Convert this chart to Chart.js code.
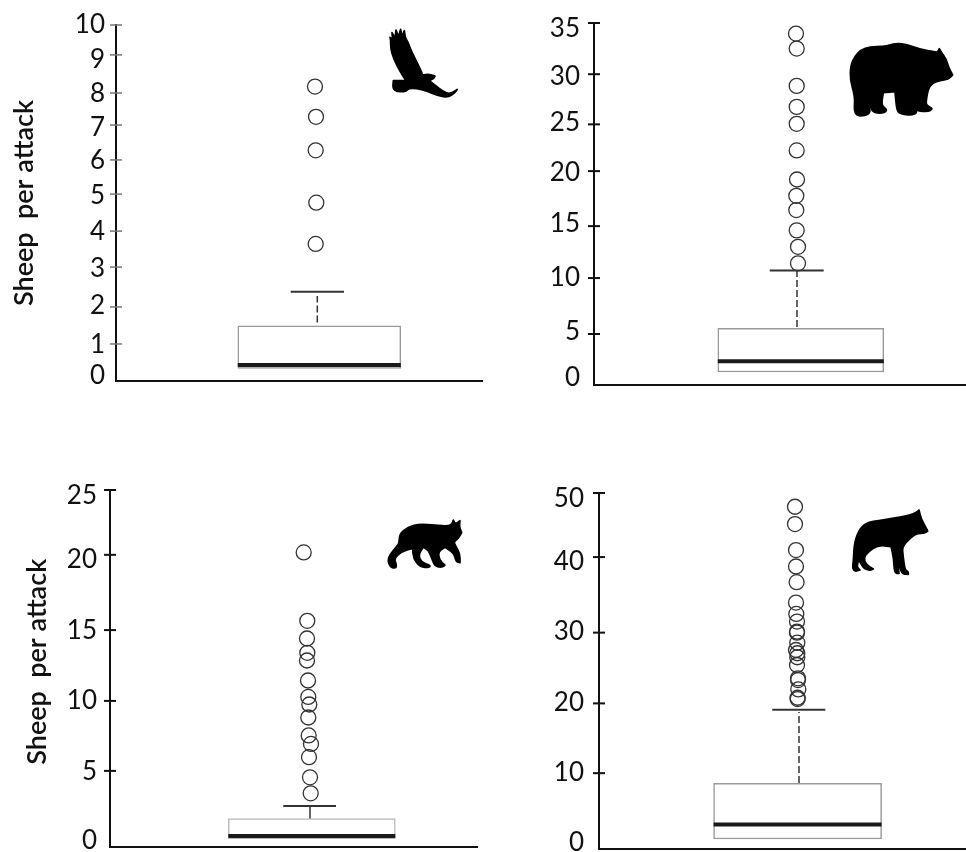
<!DOCTYPE html>
<html>
<head>
<meta charset="utf-8">
<script src="https://cdn.jsdelivr.net/npm/chart.js@4/dist/chart.umd.min.js"></script>
<style>
  body { margin: 0; background: #fff; }
  #wrap { position: relative; width: 966px; height: 852px; overflow: hidden; }
  canvas { position: absolute; filter: blur(0.3px); }
</style>
</head>
<body>
<div id="wrap">
  <canvas id="eagle" width="483" height="400" style="left:0;top:0"></canvas>
  <canvas id="bear" width="483" height="400" style="left:483px;top:0"></canvas>
  <canvas id="lynx" width="483" height="392" style="left:0;top:460px"></canvas>
  <canvas id="wolf" width="483" height="392" style="left:483px;top:460px"></canvas>
</div>
<script>
// the source axes are hand drawn: labels and tick marks are not evenly spaced,
// so each panel keeps where its labels and marks fall on a plain linear scale
const eagleLabels = ['0', '1', '2', '3', '4', '5', '6', '7', '8', '9', '10'];
const eagleLabelAt = [0.14, 1.01, 2.13, 3.17, 4.19, 5.2, 6.18, 7.13, 8.06, 9.04, 10];
const eagleMarkAt = [1.04, 2.08, 3.2, 4.21, 5.25, 6.21, 7.19, 8.09, 9.16, 10];
const eagleOutliers = [8.27, 7.42, 6.48, 5.01, 3.85];
const eagleOutlierX = [199, 200, 199.7, 200.3, 199.7];
const eagleBox = [0.35, 0.45, 1.55];
const eagleWhisker = [1.64, 2.39, 2.51];

const bearLabels = ['0', '5', '10', '15', '20', '25', '30', '35'];
const bearLabelAt = [0.68, 5.12, 10.43, 15.56, 20.58, 25.4, 29.86, 34.5];
const bearMarkAt = [4.93, 10.34, 15.36, 20.68, 25.2, 30.05, 35];
const bearOutliers = [33.98, 32.53, 28.92, 26.89, 25.25, 22.68, 19.87, 18.29, 16.91, 14.95, 13.36, 11.76];
const bearOutlierX = [202, 202.7, 202.7, 202.7, 202.7, 202.7, 203, 202.3, 202.3, 202.7, 204, 204];
const bearBox = [1.26, 2.29, 5.47];
const bearWhisker = [5.6, 11.08, 11.08];

const lynxLabels = ['0', '5', '10', '15', '20', '25'];
const lynxLabelAt = [0.42, 5.26, 10.23, 15.12, 20.14, 24.58];
const lynxMarkAt = [5.33, 10.23, 15.19, 20.46, 25];
const lynxOutliers = [20.63, 15.84, 14.6, 13.6, 13.06, 11.66, 10.51, 9.98, 9.07, 7.81, 7.22, 6.29, 4.88, 3.76];
const lynxOutlierX = [193.7, 197.3, 197, 197.3, 197, 198, 198.3, 199.3, 198.3, 198.7, 201, 199, 200, 200.7];
const lynxBox = [0.59, 0.77, 1.99];
const lynxWhisker = [1.99, 2.87, 2.87];

const wolfLabels = ['0', '10', '20', '30', '40', '50'];
const wolfLabelAt = [0.84, 10.69, 20.5, 30.53, 40.38, 49.2];
const wolfMarkAt = [10.65, 20.45, 30.39, 41, 50];
const wolfOutliers = [48.07, 45.64, 41.98, 39.68, 37.48, 34.61, 33.02, 31.94, 30.53, 30.39, 28.98, 27.95, 27.49, 26.93, 25.84, 23.97, 23.73, 22.42, 21.24, 21.06];
const wolfOutlierX = [196, 196, 197, 197, 197.6, 197, 197.3, 198, 198, 198, 198.3, 197, 198.3, 198.3, 198, 199, 199, 199.3, 198.6, 198.6];
const wolfBox = [1.41, 3.43, 9.24];
const wolfWhisker = [9.28, 19.23, 19.56];

const yTitle = 'Sheep  per attack';

// animal outlines, traced at 3x. points are x,y pairs, smoothed when drawn;
// doubled points keep a corner sharp
const eaglePath = '32,60 30,52 30,52 38,58 36,38 36,38 45,54 48,30 48,30 55,50 62,28 62,28 66,50 73,32 73,32 76,54 84,66 92,88 105,115 120,145 128,165 128,165 145,162 165,168 165,168 162,175 148,182 148,182 165,195 190,215 210,222 232,208 232,208 225,218 205,232 175,228 140,213 110,205 85,205 78,215 50,215 38,205 40,182 40,182 78,182 78,182 60,155 40,115 32,85';
const bearPath = '30,150 32,105 45,78 62,60 90,50 130,50 150,45 170,40 200,43 240,58 285,66 292,66 298,56 298,56 305,68 320,90 325,110 338,135 338,135 325,148 300,152 280,158 265,175 258,215 260,226 276,235 276,238 265,245 232,243 225,235 212,188 212,188 216,228 230,243 228,250 215,256 180,252 170,240 165,185 165,185 130,188 130,188 124,225 140,238 138,245 125,250 98,248 90,225 88,210 88,210 85,225 92,248 75,258 50,258 42,240 45,200';
const lynxPath = '58,72 85,50 120,42 165,46 205,48 216,42 220,30 220,30 226,42 240,32 240,32 238,50 245,68 245,68 235,85 222,95 225,105 240,130 240,158 240,158 228,155 222,130 195,112 195,112 175,125 178,150 195,165 195,165 188,172 165,170 155,145 145,120 130,112 130,112 115,135 125,158 150,165 150,172 120,172 100,145 98,115 98,115 65,125 42,145 50,165 48,175 30,172 22,145 45,115 58,100';
const wolfPath = '25,170 28,110 45,70 70,50 100,48 140,40 190,32 215,22 222,15 222,15 228,40 248,78 248,78 240,85 215,85 195,100 172,125 174,150 180,195 190,200 190,208 190,208 168,207 162,165 156,125 156,125 158,165 162,205 162,205 148,205 146,160 138,125 138,125 100,120 70,140 55,160 65,180 85,192 85,192 75,197 55,190 42,165 42,165 35,185 45,195 45,195 30,200 22,190';

function smoothShape(ctx, text) {
  const pts = text.split(' ').map(s => s.split(',').map(Number));
  const n = pts.length;
  ctx.beginPath();
  ctx.moveTo((pts[n - 1][0] + pts[0][0]) / 2, (pts[n - 1][1] + pts[0][1]) / 2);
  pts.forEach((pt, i) => {
    const next = pts[(i + 1) % n];
    ctx.quadraticCurveTo(pt[0], pt[1], (pt[0] + next[0]) / 2, (pt[1] + next[1]) / 2);
  });
  ctx.closePath();
}

const silhouettePlugin = {
  id: 'silhouette',
  afterDraw(chart, args, opts) {
    const ctx = chart.ctx;
    ctx.save();
    ctx.translate(opts.x, opts.y);
    ctx.scale(1 / 3, 1 / 3);
    ctx.fillStyle = '#000';
    ctx.strokeStyle = '#000';
    ctx.lineWidth = 5; // smoothing eats into thin legs, give some of it back
    ctx.lineJoin = 'round';
    smoothShape(ctx, opts.path);
    ctx.fill();
    ctx.stroke();
    ctx.restore();
  }
};

function linePts(xs, ys) {
  return xs.map((x, i) => ({ x: x, y: ys[i] }));
}

function drawPanel(p) {
  const width = p.right - p.left;
  const boxL = p.boxX - p.boxW / 2;
  const boxR = p.boxX + p.boxW / 2;
  const h = document.getElementById(p.id).height;

  new Chart(document.getElementById(p.id), {
    type: 'scatter',
    data: {
      // first dataset ends up on top
      datasets: [
        {
          data: linePts(p.outlierX, p.outliers),
          pointRadius: 7.5,
          pointBorderWidth: 1.3,
          pointBorderColor: '#333',
          pointBackgroundColor: 'rgba(0,0,0,0)',
          clip: false
        },
        {
          data: p.marks.map(v => ({ x: 0, y: v })),
          pointStyle: 'line',
          pointRadius: 6,
          pointBorderWidth: p.markWidth,
          pointBorderColor: p.markColor,
          clip: false
        },
        {
          data: linePts([boxL, boxR], [p.box[1], p.box[1]]),
          showLine: true,
          pointRadius: 0,
          borderColor: '#1a1a1a',
          borderWidth: 4
        },
        {
          data: linePts([p.capL, p.capR], [p.whisker[2], p.whisker[2]]),
          showLine: true,
          pointRadius: 0,
          borderColor: '#333',
          borderWidth: 2
        },
        {
          data: linePts([p.whiskerX, p.whiskerX], [p.whisker[0], p.whisker[1]]),
          showLine: true,
          pointRadius: 0,
          borderColor: '#333',
          borderWidth: 1.5,
          borderDash: p.dash
        },
        {
          type: 'bar',
          data: [{ x: p.boxX, y: [p.box[0], p.box[2]] }],
          barThickness: p.boxW,
          backgroundColor: '#fff',
          borderColor: p.boxColor,
          borderWidth: 1.5,
          borderSkipped: false
        }
      ]
    },
    options: {
      responsive: false,
      animation: false,
      events: [],
      layout: { autoPadding: false, padding: { top: p.top, right: 483 - p.right, left: 0, bottom: 0 } },
      plugins: {
        legend: { display: false },
        tooltip: { enabled: false },
        silhouette: { path: p.path, x: p.picX, y: p.picY }
      },
      scales: {
        x: {
          type: 'linear',
          offset: false,
          min: 0,
          max: width,
          grid: { display: false, drawTicks: false, offset: false },
          border: { color: '#111', width: 2 },
          ticks: { display: false },
          afterFit(scale) { scale.height = h - p.bottom; }
        },
        y: {
          type: 'linear',
          min: 0,
          max: p.max,
          grid: { display: false, drawTicks: false },
          border: { color: '#111', width: 2 },
          title: p.title ? {
            display: true,
            text: p.title,
            color: '#111',
            font: { family: 'Lato', size: 27, weight: '600' },
            padding: { top: p.titlePad, bottom: 0 }
          } : { display: false },
          ticks: {
            autoSkip: false,
            maxRotation: 0,
            padding: p.labelPad,
            color: '#111',
            font: { family: 'Lato', size: 26 },
            callback: (v, i) => p.labels[i]
          },
          afterBuildTicks(scale) { scale.ticks = p.labelAt.map(v => ({ value: v })); },
          afterFit(scale) {
            scale.width = p.left;
            // the labels may hang past the plot, no room needs reserving for them
            scale.paddingTop = 0;
            scale.paddingBottom = 0;
          }
        }
      }
    },
    plugins: [silhouettePlugin]
  });
}

drawPanel({
  id: 'eagle', left: 116, right: 483, top: 25, bottom: 381, max: 10,
  labels: eagleLabels, labelAt: eagleLabelAt, marks: eagleMarkAt,
  outliers: eagleOutliers, outlierX: eagleOutlierX, box: eagleBox, whisker: eagleWhisker,
  boxX: 203.3, boxW: 163, capL: 174.7, capR: 228, whiskerX: 201.3,
  dash: [7, 3], boxColor: '#999', markColor: '#777', markWidth: 1.5, labelPad: 11,
  title: yTitle, titlePad: 8, path: eaglePath, picX: 380, picY: 20
});
drawPanel({
  id: 'bear', left: 111, right: 483, top: 23, bottom: 385, max: 35,
  labels: bearLabels, labelAt: bearLabelAt, marks: bearMarkAt,
  outliers: bearOutliers, outlierX: bearOutlierX, box: bearBox, whisker: bearWhisker,
  boxX: 206.8, boxW: 166, capL: 175.7, capR: 229.7, whiskerX: 203,
  dash: [7, 3], boxColor: '#999', markColor: '#111', markWidth: 2, labelPad: 14,
  title: '', path: bearPath, picX: 357, picY: 30
});
drawPanel({
  // leading spaces lift this title a few px, it sits above the plot centre here
  id: 'lynx', left: 110, right: 477, top: 30, bottom: 387, max: 25,
  labels: lynxLabels, labelAt: lynxLabelAt, marks: lynxMarkAt,
  outliers: lynxOutliers, outlierX: lynxOutlierX, box: lynxBox, whisker: lynxWhisker,
  boxX: 201.8, boxW: 167, capL: 173.3, capR: 226, whiskerX: 200,
  dash: [], boxColor: '#bbb', markColor: '#111', markWidth: 2, labelPad: 13,
  title: '  ' + yTitle, titlePad: 21, path: lynxPath, picX: 380, picY: 50
});
drawPanel({
  id: 'wolf', left: 116, right: 483, top: 33, bottom: 389, max: 50,
  labels: wolfLabels, labelAt: wolfLabelAt, marks: wolfMarkAt,
  outliers: wolfOutliers, outlierX: wolfOutlierX, box: wolfBox, whisker: wolfWhisker,
  boxX: 198.6, boxW: 168, capL: 173.3, capR: 226.3, whiskerX: 200,
  dash: [7, 3], boxColor: '#999', markColor: '#111', markWidth: 2, labelPad: 15,
  title: '', path: wolfPath, picX: 362, picY: 45
});
</script>
</body>
</html>
